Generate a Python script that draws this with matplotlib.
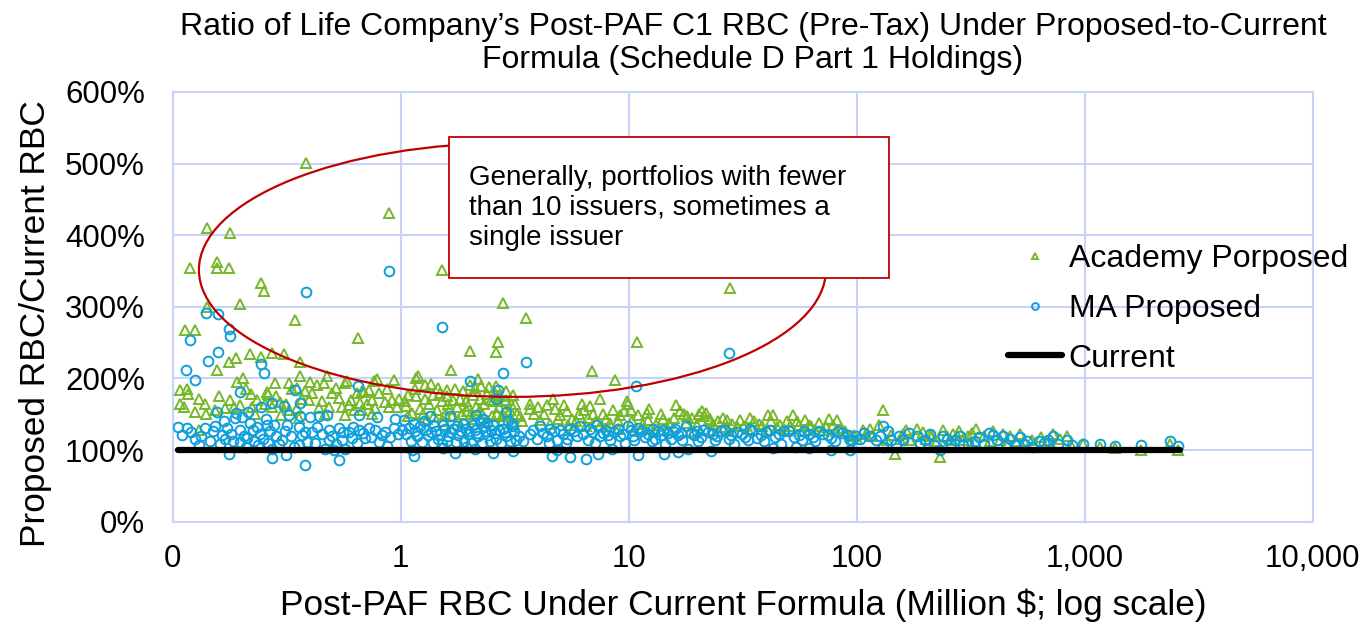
import matplotlib
matplotlib.use("Agg")
import matplotlib.pyplot as plt
from matplotlib.ticker import FixedLocator, FixedFormatter, NullLocator, FuncFormatter
from matplotlib.patches import Ellipse, Rectangle

plt.rcParams['font.family'] = ['Liberation Sans', 'DejaVu Sans']

# ---------------- data (x = Million $, y = % of current) ----------------
academy_points = [
    (0.385, 501), (0.886, 431), (0.141, 410), (0.178, 403), (0.119, 354), (0.157, 363),
    (0.157, 354), (0.176, 354), (0.244, 333), (0.251, 322), (0.197, 304), (0.344, 281),
    (0.142, 300), (0.652, 257), (0.113, 268), (0.125, 268),
    (0.218, 234), (0.190, 229), (0.177, 223), (0.157, 212), (0.245, 230), (0.272, 235),
    (0.308, 234), (0.362, 223), (0.362, 204), (0.475, 204),
    (0.108, 184), (0.115, 185), (0.117, 179), (0.108, 164), (0.125, 153), (0.130, 172),
    (0.138, 165), (0.192, 195), (0.204, 200), (0.220, 179), (0.260, 181), (0.263, 179),
    (0.281, 194), (0.324, 194), (0.351, 187), (0.380, 183), (0.400, 195), (0.429, 191),
    (0.460, 194), (0.500, 180), (0.535, 173), (0.570, 194), (0.643, 180), (0.690, 181),
    (0.727, 184), (0.750, 170), (0.788, 199), (0.853, 167), (0.935, 198), (0.983, 172),
    (0.153, 156), (0.170, 159), (0.178, 170), (0.197, 163), (0.222, 160), (0.234, 170),
    (0.272, 160), (0.296, 167), (0.324, 156), (0.351, 159), (0.395, 170), (0.438, 159),
    (0.485, 160), (0.553, 160), (0.593, 163), (0.625, 156), (0.677, 156), (0.771, 159),
    (0.888, 160), (0.916, 170), (0.300, 149), (0.357, 145), (0.466, 151), (0.570, 149),
    (0.750, 151), (0.130, 128), (0.580, 196), (0.675, 182), (0.760, 196), (1.17, 201),
    (0.112, 160), (0.140, 150), (0.160, 176), (0.185, 160), (0.210, 185), (0.230, 150),
    (0.255, 165), (0.285, 175), (0.315, 165), (0.335, 185), (0.370, 172), (0.410, 180),
    (0.450, 168), (0.520, 186), (0.605, 170), (0.660, 166), (0.710, 165), (0.800, 180),
    (0.870, 185), (0.960, 160),
    (1.52, 351), (2.80, 306), (3.55, 284), (2.01, 239), (2.67, 251), (2.62, 237),
    (1.66, 212), (6.90, 211), (8.70, 198), (1.19, 203),
    (1.28, 191), (1.36, 192), (1.46, 186), (1.59, 184), (1.73, 185), (2.01, 191),
    (2.19, 199), (2.26, 189), (2.44, 188), (2.63, 190), (2.91, 182),
    (1.08, 177), (1.17, 175), (1.28, 172), (1.39, 177), (1.51, 168), (1.59, 175),
    (1.70, 170), (1.82, 172), (1.94, 168), (2.08, 177), (2.23, 172), (2.38, 179),
    (2.55, 168), (2.73, 175), (2.91, 170), (3.12, 177), (3.17, 165), (3.69, 165),
    (3.69, 157), (4.67, 171), (4.38, 163), (4.75, 158), (5.00, 149), (5.37, 154),
    (5.63, 144), (6.24, 165), (6.36, 156), (6.77, 161), (6.97, 151), (7.49, 172),
    (7.99, 144), (8.55, 156), (9.16, 149), (9.79, 168),
    (1.06, 161), (1.22, 158), (1.44, 156), (1.65, 158), (1.95, 154), (2.23, 156),
    (2.64, 151), (3.02, 156), (3.34, 147), (1.08, 147), (1.30, 144), (1.54, 140),
    (1.79, 142), (2.06, 144), (2.42, 140), (2.82, 142), (3.11, 137), (4.08, 142),
    (4.52, 137), (5.41, 135), (6.52, 133), (7.49, 133), (8.94, 130),
    (1.04, 168), (1.12, 152), (1.15, 185), (1.25, 150), (1.33, 165), (1.40, 148),
    (1.48, 180), (1.56, 150), (1.62, 165), (1.68, 148), (1.76, 160), (1.85, 150),
    (1.88, 182), (1.98, 162), (2.04, 150), (2.12, 186), (2.15, 160), (2.28, 150),
    (2.33, 165), (2.48, 170), (2.52, 148), (2.60, 178), (2.70, 160), (2.78, 148),
    (2.86, 168), (2.96, 150), (3.05, 165), (3.25, 150), (3.40, 140), (3.85, 150),
    (4.00, 160), (4.25, 150), (4.90, 143), (5.20, 163), (5.90, 140), (6.05, 150),
    (6.60, 145), (7.20, 140), (7.70, 150), (8.30, 138), (9.00, 140), (9.50, 155),
    (27.8, 326), (10.9, 251),
    (9.9, 165), (10.2, 156), (11.0, 149), (11.5, 137), (12.2, 142), (12.3, 158),
    (14.1, 144), (16.1, 163), (17.4, 151), (18.0, 147), (20.3, 151), (20.9, 154),
    (21.5, 147), (22.5, 142), (22.8, 144), (24.7, 140), (27.0, 142), (28.4, 137),
    (29.9, 133), (35.5, 140), (37.1, 137), (40.7, 149), (43.0, 149), (46.2, 135),
    (52.6, 149), (54.5, 140), (61.5, 135), (65.6, 128), (75.8, 144), (82.3, 142),
    (93.0, 119), (97.5, 121),
    (10.6, 128), (12.9, 126), (14.8, 128), (19.4, 126), (23.1, 128), (27.3, 126),
    (33.3, 130), (40.7, 128), (48.2, 130), (57.4, 126), (70.8, 128), (80.9, 126),
    (10.3, 140), (11.3, 130), (12.0, 152), (13.2, 135), (13.9, 150), (15.0, 138),
    (15.8, 145), (16.8, 155), (17.8, 138), (19.0, 145), (20.0, 135), (21.8, 152),
    (23.5, 136), (25.8, 145), (26.2, 132), (30.8, 142), (32.0, 134), (34.0, 145),
    (38.5, 133), (42.0, 140), (44.8, 132), (49.5, 140), (51.0, 133), (56.0, 135),
    (59.5, 142), (63.0, 133), (68.5, 138), (73.0, 132), (78.5, 135), (85.5, 131),
    (89.0, 126),
    (131, 156), (107, 128), (114, 130), (142, 121), (159, 123), (183, 130),
    (210, 121), (214, 119), (232, 91), (147, 95), (248, 119), (265, 123), (275, 121),
    (307, 119), (335, 130), (398, 126), (436, 123), (498, 112), (541, 112), (585, 114),
    (727, 123), (833, 119), (880, 105), (985, 109), (1169, 105), (1360, 103),
    (1770, 100), (2371, 109), (2570, 100),
    (100, 116), (117, 119), (136, 114), (155, 116), (171, 114), (202, 116), (226, 112),
    (257, 114), (293, 114), (330, 112), (385, 112), (426, 114), (455, 109),
    (110, 123), (125, 135), (165, 128), (195, 125), (240, 128), (280, 126), (320, 124),
    (360, 120), (470, 120), (520, 122), (640, 118), (690, 112), (780, 115),
]

ma_points = [
    (0.886, 350), (0.385, 321), (0.140, 292), (0.158, 290), (0.176, 269), (0.178, 259),
    (0.119, 254), (0.158, 237), (0.143, 224), (0.114, 212), (0.125, 198), (0.244, 220),
    (0.252, 207), (0.197, 181), (0.345, 184), (0.652, 190),
    (0.362, 166), (0.272, 166), (0.308, 162), (0.244, 160), (0.215, 153), (0.190, 152),
    (0.157, 153), (0.188, 145), (0.201, 146), (0.324, 149), (0.362, 148), (0.400, 146),
    (0.438, 148), (0.475, 149), (0.657, 149), (0.788, 146), (0.944, 143),
    (0.106, 132), (0.115, 131), (0.138, 131), (0.153, 134), (0.173, 131), (0.197, 128),
    (0.218, 138), (0.234, 132), (0.260, 135), (0.278, 135), (0.318, 135), (0.357, 132),
    (0.380, 125), (0.429, 132), (0.485, 128), (0.535, 131), (0.593, 125), (0.657, 128),
    (0.727, 131), (0.771, 128), (0.853, 125), (0.935, 131),
    (0.164, 121), (0.170, 116), (0.125, 116), (0.130, 107), (0.197, 111), (0.212, 117),
    (0.236, 107), (0.263, 110), (0.301, 114), (0.357, 107), (0.388, 111), (0.485, 114),
    (0.553, 114), (0.612, 117), (0.697, 117), (0.804, 111), (0.870, 106),
    (0.272, 102), (0.466, 102), (0.509, 100), (0.570, 102), (0.177, 95), (0.272, 89),
    (0.315, 93), (0.380, 79), (0.535, 86),
    (0.110, 121), (0.120, 125), (0.133, 119), (0.146, 112), (0.150, 126), (0.161, 108),
    (0.168, 140), (0.180, 122), (0.184, 113), (0.205, 119), (0.209, 105), (0.225, 128),
    (0.228, 112), (0.241, 122), (0.250, 116), (0.256, 143), (0.268, 126), (0.285, 120),
    (0.292, 108), (0.310, 127), (0.330, 120), (0.340, 104), (0.369, 121), (0.410, 125),
    (0.420, 110), (0.450, 123), (0.500, 120), (0.520, 108), (0.560, 125), (0.620, 132),
    (0.640, 110), (0.680, 124), (0.740, 118), (0.830, 121), (0.900, 118), (0.970, 122),
    (1.52, 272), (3.55, 223), (2.80, 208), (2.01, 197), (2.67, 184), (2.90, 153),
    (10.8, 189), (2.63, 172),
    (1.34, 148), (1.65, 147), (2.15, 149), (2.30, 144), (3.07, 137),
    (1.03, 142), (1.14, 137), (1.26, 140), (1.40, 133), (1.54, 135), (1.70, 130),
    (1.87, 137), (2.08, 135), (2.31, 133), (2.55, 135), (2.82, 130), (3.11, 133),
    (3.69, 123), (4.08, 133), (4.52, 130), (5.00, 128), (5.53, 130), (6.12, 133),
    (6.77, 130), (7.23, 135), (7.99, 128), (8.94, 130), (9.90, 133),
    (1.06, 123), (1.18, 119), (1.32, 121), (1.46, 116), (1.62, 119), (1.79, 121),
    (1.98, 123), (2.19, 119), (2.42, 121), (2.63, 116), (2.91, 119), (3.22, 114),
    (3.95, 116), (4.38, 119), (4.85, 114), (5.37, 116), (5.95, 119), (6.60, 114),
    (7.49, 119), (8.28, 114), (9.16, 119),
    (1.12, 100), (1.14, 92), (1.54, 103), (1.73, 96), (1.94, 105), (2.12, 101),
    (2.54, 96), (3.11, 99), (4.60, 92), (4.83, 100), (5.53, 90), (6.52, 87),
    (7.34, 95), (8.42, 101),
    (1.01, 128), (1.09, 131), (1.11, 112), (1.16, 127), (1.21, 133), (1.24, 111),
    (1.29, 128), (1.36, 125), (1.38, 110), (1.43, 127), (1.49, 122), (1.51, 108),
    (1.57, 129), (1.60, 112), (1.67, 125), (1.75, 111), (1.77, 133), (1.84, 127),
    (1.90, 113), (1.93, 130), (2.00, 127), (2.04, 110), (2.11, 128), (2.17, 124),
    (2.22, 141), (2.27, 110), (2.35, 127), (2.39, 138), (2.46, 112), (2.50, 128),
    (2.58, 124), (2.69, 128), (2.76, 110), (2.87, 125), (2.96, 140), (3.03, 112),
    (3.15, 126), (3.30, 120), (3.45, 113), (3.80, 128), (4.20, 124), (4.45, 110),
    (4.70, 126), (5.15, 122), (5.30, 110), (5.75, 126), (6.30, 122), (6.90, 125),
    (7.10, 110), (7.70, 124), (8.10, 121), (8.60, 125), (9.40, 122), (9.60, 110),
    (27.6, 235),
    (10.2, 128), (11.4, 126), (12.2, 123), (13.5, 126), (14.2, 128), (15.7, 126),
    (16.5, 121), (17.9, 133), (19.4, 121), (21.1, 128), (23.5, 123), (25.5, 126),
    (28.2, 121), (31.3, 123), (34.8, 126), (38.2, 121), (41.5, 128), (45.6, 123),
    (50.6, 126), (55.8, 121), (61.7, 123), (68.0, 126), (74.8, 121), (82.8, 126),
    (91.6, 121), (99.6, 119),
    (10.6, 114), (12.6, 112), (14.4, 109), (17.1, 114), (20.2, 112), (23.8, 114),
    (29.1, 109), (33.3, 114), (39.4, 112), (46.6, 109), (57.4, 114), (65.6, 112),
    (80.4, 112),
    (11.0, 93), (14.3, 95), (16.5, 98), (18.2, 101), (23.0, 99), (43.0, 103),
    (54.3, 104), (61.7, 103), (77.5, 100), (93.0, 100),
    (10.4, 120), (11.0, 131), (11.8, 118), (12.8, 130), (13.0, 116), (13.9, 121),
    (14.9, 124), (15.3, 115), (16.0, 130), (16.9, 124), (18.7, 124), (19.9, 127),
    (20.7, 118), (22.2, 125), (24.5, 119), (26.5, 128), (27.4, 116), (29.8, 125),
    (32.4, 118), (33.9, 130), (36.5, 117), (40.0, 125), (43.8, 118), (47.9, 126),
    (53.0, 118), (58.9, 126), (64.0, 118), (71.0, 123), (77.0, 117), (86.0, 124),
    (95.0, 114),
    (131, 134), (93, 114), (103, 116), (114, 119), (122, 114), (131, 105), (142, 114),
    (149, 109), (160, 114), (183, 119), (200, 114), (218, 107), (232, 100), (248, 116),
    (270, 114), (293, 107), (307, 109), (330, 112), (360, 109), (398, 121), (412, 114),
    (436, 119), (451, 109), (498, 109), (541, 109), (585, 105), (630, 112), (690, 114),
    (727, 119), (833, 114), (880, 107), (985, 109), (1169, 108), (1360, 106),
    (1770, 107), (2371, 112), (2570, 106),
    (108, 124), (126, 120), (137, 126), (153, 120), (170, 124), (190, 110), (210, 123),
    (240, 120), (260, 108), (285, 120), (345, 118), (380, 124), (470, 115), (520, 118),
    (560, 113), (660, 110), (760, 108),
]

current_x = [0.106, 2620]
current_y = [100, 100]

x_ticks = [0.1, 1, 10, 100, 1000, 10000]
x_tick_labels = ['0', '1', '10', '100', '1,000', '10,000']
y_ticks = [0, 100, 200, 300, 400, 500, 600]

series_labels = ['Academy Porposed', 'MA Proposed', 'Current']
title_text = ("Ratio of Life Company\u2019s Post-PAF C1 RBC (Pre-Tax) Under Proposed-to-Current\n"
              "Formula (Schedule D Part 1 Holdings)")
x_label = "Post-PAF RBC Under Current Formula (Million $; log scale)"
y_label = "Proposed RBC/Current RBC"
note_text = "Generally, portfolios with fewer\nthan 10 issuers, sometimes a\nsingle issuer"

# ---------------- styling ----------------
green = '#76B82A'
blue = '#0DA0DC'
grid_c = '#C8D2FA'
red = '#C00000'

W, H = 1371, 626
fig = plt.figure(figsize=(W / 100, H / 100), dpi=100)
L, R, T, B = 172.7, 1312.7, 92.0, 521.7
ax = fig.add_axes([L / W, 1 - B / H, (R - L) / W, (B - T) / H])

ax.set_xscale('log')
ax.set_xlim(0.1, 10000)
ax.set_ylim(0, 600)
ax.xaxis.set_major_locator(FixedLocator(x_ticks))
ax.xaxis.set_major_formatter(FixedFormatter(x_tick_labels))
ax.xaxis.set_minor_locator(NullLocator())
ax.yaxis.set_major_locator(FixedLocator(y_ticks))
ax.yaxis.set_major_formatter(FuncFormatter(lambda v, p: f"{v:.0f}%"))

ax.grid(True, which='major', color=grid_c, lw=1.5)
ax.set_axisbelow(True)
for s in ax.spines.values():
    s.set_color(grid_c)
    s.set_linewidth(1.5)
ax.tick_params(axis='both', length=0, labelsize=22.5)
ax.tick_params(axis='y', pad=20)
ax.tick_params(axis='x', pad=16)

ax_x = [p[0] for p in academy_points]
ax_y = [p[1] for p in academy_points]
ma_x = [p[0] for p in ma_points]
ma_y = [p[1] for p in ma_points]

ax.plot(ax_x, ax_y, ls='none', marker='^', ms=7, mfc='none', mec=green, mew=1.4,
        label=series_labels[0], zorder=3)
ax.plot(ma_x, ma_y, ls='none', marker='o', ms=7, mfc='none', mec=blue, mew=1.4,
        label=series_labels[1], zorder=4)
ax.plot(current_x, current_y, color='black', lw=4.5, solid_capstyle='round',
        label=series_labels[2], zorder=5)

# annotation ellipse and box (axes-fraction geometry)
ax.add_patch(Ellipse((0.298, 0.586), 0.55, 0.591, transform=ax.transAxes,
                     fill=False, ec=red, lw=1.6, zorder=6))
bx0, by0, bx1, by1 = 0.2424, 0.5671, 0.6283, 0.8953
ax.add_patch(Rectangle((bx0, by0), bx1 - bx0, by1 - by0, transform=ax.transAxes,
                       fc='white', ec=red, lw=1.3, zorder=7))
ax.text(0.26, (by0 + by1) / 2, note_text, transform=ax.transAxes, ha='left', va='center',
        fontsize=20, zorder=8)

leg = ax.legend(loc='upper left', bbox_to_anchor=(1008 / W, 1 - 244 / H),
                bbox_transform=fig.transFigure, frameon=False, fontsize=23,
                handlelength=1.7, handletextpad=0.2, labelspacing=0.62,
                borderpad=0, borderaxespad=0, markerscale=0.7)
leg.set_zorder(9)

fig.text(753 / W, 1 - 43.5 / H, title_text, ha='center', va='center', fontsize=23,
         linespacing=1.15)
fig.text(36 / W, 1 - 324 / H, y_label, rotation=90, ha='center', va='center', fontsize=25.4)
fig.text(743 / W, 1 - 605 / H, x_label, ha='center', va='center', fontsize=25.4)

fig.savefig('out.png', dpi=100)
